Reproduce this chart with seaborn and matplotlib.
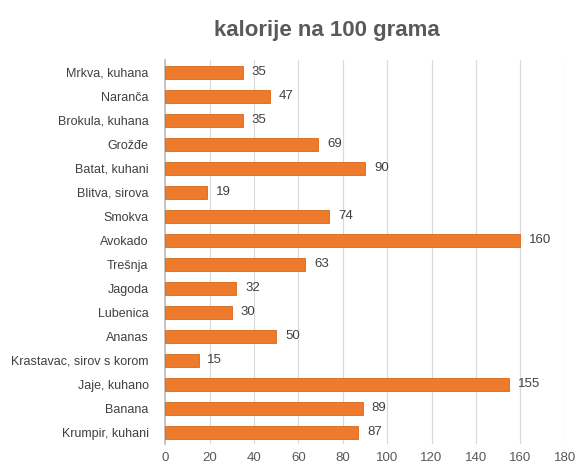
import matplotlib
matplotlib.use("Agg")
import matplotlib.pyplot as plt
import seaborn as sns
import pandas as pd

foods = ["Mrkva, kuhana", "Naranča", "Brokula, kuhana", "Grožđe", "Batat, kuhani",
         "Blitva, sirova", "Smokva", "Avokado", "Trešnja", "Jagoda", "Lubenica",
         "Ananas", "Krastavac, sirov s korom", "Jaje, kuhano", "Banana", "Krumpir, kuhani"]
kcal = [35, 47, 35, 69, 90, 19, 74, 160, 63, 32, 30, 50, 15, 155, 89, 87]
xticks = [0, 20, 40, 60, 80, 100, 120, 140, 160, 180]

sns.set_theme(style="white")
plt.rcParams['font.family'] = ['Liberation Sans', 'DejaVu Sans']
df = pd.DataFrame({"food": foods, "kcal": kcal})

fig = plt.figure(figsize=(5.84, 4.74), dpi=100)
ax = fig.add_axes([0.283, 0.063, 0.684, 0.81])
sns.barplot(data=df, x="kcal", y="food", color="#EE7A2C", saturation=1,
            width=0.55, ax=ax, edgecolor="#D9661A", linewidth=0.6, zorder=3)
ax.set_xlim(0, 180)
ax.set_xticks(xticks)
ax.set_xticklabels([str(t) for t in xticks], color="#595959", fontsize=9.5)
ax.tick_params(axis='y', labelsize=9, colors="#404040", length=0, pad=12)
ax.tick_params(axis='x', length=0, pad=6)
ax.set_xlabel("")
ax.set_ylabel("")
ax.grid(axis='x', color="#D9D9D9", linewidth=0.8, zorder=0)
for s in ["top", "right", "bottom"]:
    ax.spines[s].set_visible(False)
ax.spines["left"].set_color("#BFBFBF")
for i, v in enumerate(kcal):
    ax.text(v + 4, i, str(v), va="center", ha="left", fontsize=9.5, color="#404040")
fig.text(0.56, 0.935, "kalorije na 100 grama", ha="center", va="center",
         fontsize=16, fontweight="bold", color="#595959")
fig.savefig("out.png", dpi=100)
